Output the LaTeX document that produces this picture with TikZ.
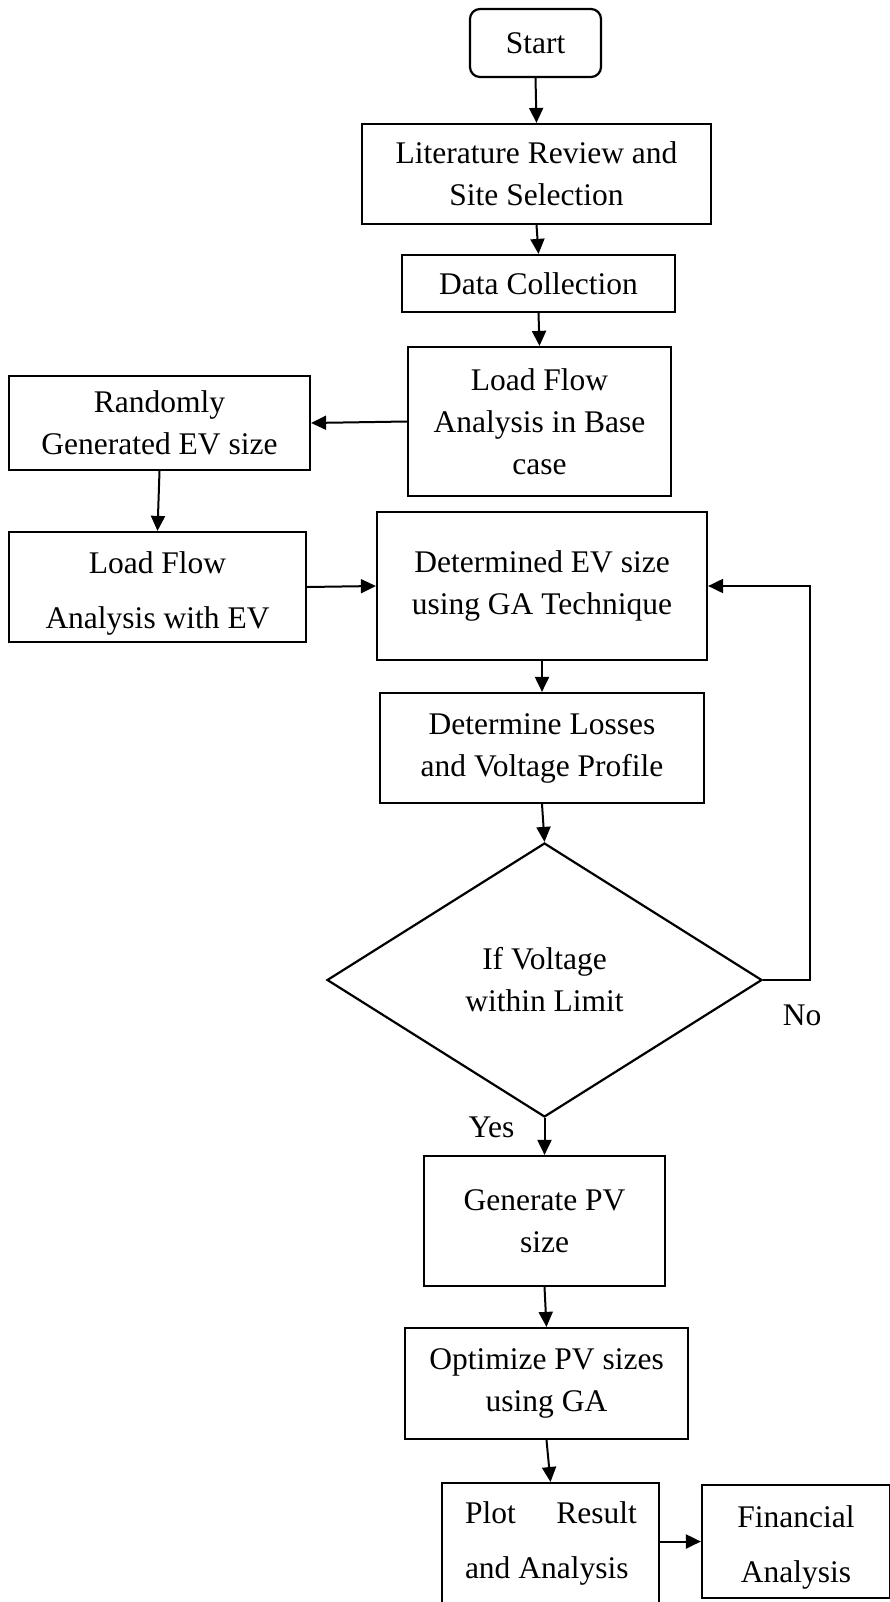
\documentclass[tikz,border=0pt]{standalone}
\usepackage{fontspec}
\setmainfont{Liberation Serif}
\usetikzlibrary{arrows.meta,shapes.geometric,calc}
\begin{document}
\begin{tikzpicture}[x=1pt,y=-1pt,
  every node/.style={font=\fontsize{31.5}{42}\selectfont},
  box/.style={draw, line width=2.2pt, rectangle, align=center, inner sep=0pt},
  wide/.style={font=\fontsize{31.5}{55}\selectfont},
  flow/.style={line width=2pt, -{Triangle[length=15pt,width=14pt]}}
]
\clip (0,0) rectangle (890,1602);
\fill[white] (0,0) rectangle (890,1602);

% process steps
\node[box, rounded corners=10pt, minimum width=131pt, minimum height=68pt] (start) at (535.5,43) {Start};
\node[box, minimum width=349pt, minimum height=100pt] (lit) at (536.5,174) {Literature Review and\\Site Selection};
\node[box, minimum width=273pt, minimum height=57pt] (data) at (538.5,283.5) {Data Collection};
\node[box, minimum width=263pt, minimum height=149pt] (lfbase) at (539.5,421.5) {Load Flow\\Analysis in Base\\case};
\node[box, minimum width=301pt, minimum height=94pt] (rand) at (159.5,423) {Randomly\\Generated EV size};
\node[box, wide, minimum width=297pt, minimum height=110pt] (lfev) at (157.5,587) {\rule{0pt}{34pt}Load Flow\\Analysis with EV};
\node[box, minimum width=330pt, minimum height=148pt] (detev) at (542,586) {Determined EV size\\using GA Technique};
\node[box, minimum width=324pt, minimum height=110pt] (loss) at (542,748) {Determine Losses\\and Voltage Profile};
\node[draw, line width=2.2pt, diamond, minimum width=435pt, minimum height=274pt, inner sep=0pt, align=center] (vcheck) at (544.5,980) {If Voltage\\within Limit};
\node[box, minimum width=241pt, minimum height=130pt] (gen) at (544.5,1221) {Generate PV\\size};
\node[box, minimum width=283pt, minimum height=111pt] (opt) at (546.5,1383.5) {Optimize PV sizes\\using GA};
\node[box, minimum width=217pt, minimum height=170pt, anchor=north] (plot) at (550.5,1482) {};
\node[wide, align=left, inner sep=0pt] (plottxt) at (551,1543) {\makebox[172pt][s]{Plot\hfill Result}\\and Analysis};
\node[box, wide, minimum width=188pt, minimum height=113pt] (fin) at (796,1541.5) {\rule{0pt}{34pt}Financial\\Analysis};

% decision labels
\node (yes) at (491.5,1127) {Yes};
\node (no) at (802,1015) {No};

% connectors
\draw[flow] (start.south) -- (lit.north);
\draw[flow] (lit.south) -- (data.north);
\draw[flow] (data.south) -- (lfbase.north);
\draw[flow] (lfbase.west) -- (rand.east);
\draw[flow] (rand.south) -- (lfev.north);
\draw[flow] (lfev.east) -- (detev.west);
\draw[flow] (detev.south) -- (loss.north);
\draw[flow] (loss.south) -- (vcheck.north);
\draw[flow] (vcheck.east) -- ++(47,0) |- (detev.east);
\draw[flow] (vcheck.south) -- (gen.north);
\draw[flow] (gen.south) -- (opt.north);
\draw[flow] (opt.south) -- (plot.north);
\draw[flow] (fin.west -| plot.east) -- (fin.west);
\end{tikzpicture}
\end{document}
